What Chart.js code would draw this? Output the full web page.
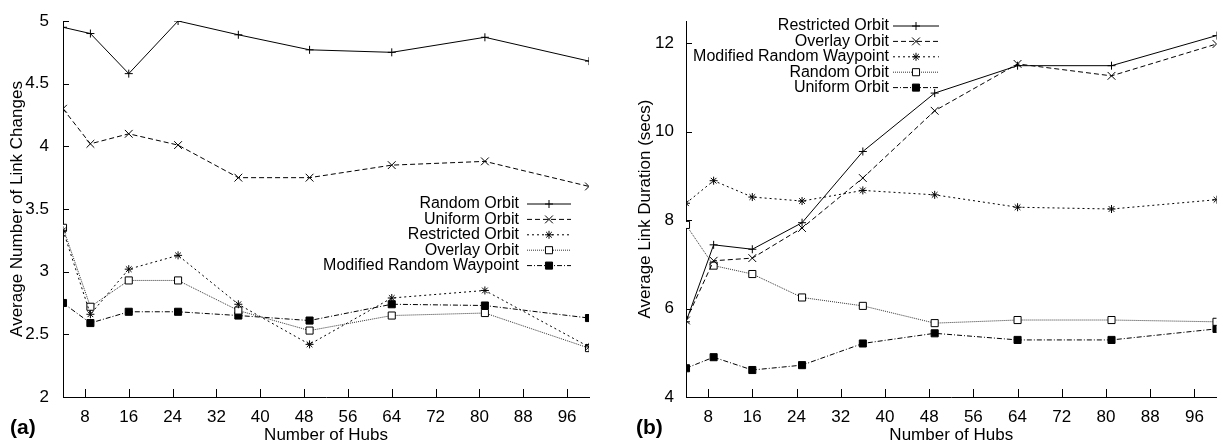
<!DOCTYPE html>
<html>
<head>
<meta charset="utf-8">
<script src="https://cdn.jsdelivr.net/npm/chart.js@4"></script>
<style>
    body { margin: 0; background: #fff; width: 1223px; height: 443px; overflow: hidden; position: relative; }
    .panneau { position: absolute; top: 0; height: 443px; }
    .lettre { position: absolute; top: 415px; font: bold 21px "Liberation Sans", Arial, sans-serif; line-height: 24px; color: #000; }
</style>
</head>
<body>
<div class="panneau" style="left:0;width:611px"><canvas id="graphA" width="611" height="443"></canvas></div>
<div class="panneau" style="left:611px;width:612px"><canvas id="graphB" width="612" height="443"></canvas></div>
<div class="lettre" style="left:10px">(a)</div>
<div class="lettre" style="left:636px">(b)</div>
<script>
// Nombre de hubs (axe x commun)
const hubs = [4, 9, 16, 25, 36, 49, 64, 81, 100];
const xTicks = [8, 16, 24, 32, 40, 48, 56, 64, 72, 80, 88, 96];

// (a) nombre moyen de changements de lien
const nomsA = ['Random Orbit', 'Uniform Orbit', 'Restricted Orbit', 'Overlay Orbit', 'Modified Random Waypoint'];
const randomOrbitA = [4.95, 4.90, 4.58, 5.00, 4.89, 4.77, 4.75, 4.87, 4.68];
const uniformOrbitA = [4.30, 4.02, 4.10, 4.01, 3.75, 3.75, 3.85, 3.88, 3.68];
const restrictedOrbitA = [3.33, 2.66, 3.02, 3.13, 2.74, 2.42, 2.79, 2.85, 2.40];
const overlayOrbitA = [3.35, 2.72, 2.93, 2.93, 2.69, 2.53, 2.65, 2.67, 2.39];
const mrwA = [2.75, 2.59, 2.68, 2.68, 2.65, 2.61, 2.74, 2.73, 2.63];
const yTicksA = [2, 2.5, 3, 3.5, 4, 4.5, 5];

// (b) durée moyenne des liens
const nomsB = ['Restricted Orbit', 'Overlay Orbit', 'Modified Random Waypoint', 'Random Orbit', 'Uniform Orbit'];
const restrictedOrbitB = [5.70, 7.44, 7.34, 7.94, 9.55, 10.87, 11.49, 11.49, 12.17];
const overlayOrbitB = [5.73, 7.08, 7.14, 7.82, 8.95, 10.47, 11.53, 11.26, 11.98];
const mrwB = [8.38, 8.89, 8.52, 8.43, 8.67, 8.57, 8.29, 8.25, 8.46];
const randomOrbitB = [7.89, 6.97, 6.78, 6.25, 6.06, 5.67, 5.74, 5.74, 5.70];
const uniformOrbitB = [4.65, 4.90, 4.61, 4.72, 5.21, 5.44, 5.29, 5.29, 5.54];
const yTicksB = [4, 6, 8, 10, 12];

// Styles gnuplot, dans l'ordre de la légende
const styles = [
    { dash: [], point: 'cross', r: 4, fond: '#000', trait: '#000' },
    { dash: [5, 3], point: 'crossRot', r: 5.5, fond: '#000', trait: '#000' },
    { dash: [2, 3], point: 'star', r: 4, fond: '#000', trait: '#000' },
    { dash: [1, 1], point: 'rect', r: 5, fond: '#fff', trait: '#333' },
    { dash: [5, 2, 1, 2], point: 'rect', r: 5, fond: '#000', trait: '#000' }
];

Chart.defaults.font.family = '"Liberation Sans", Arial, sans-serif';
Chart.defaults.font.size = 17;
Chart.defaults.color = '#000';

// Graduations tournées vers l'intérieur
const graduations = {
    id: 'graduations',
    afterDraw(chart) {
        const ctx = chart.ctx;
        const { x, y } = chart.scales;
        ctx.save();
        ctx.strokeStyle = '#000';
        ctx.lineWidth = 1;
        ctx.setLineDash([]);
        ctx.beginPath();
        x.ticks.forEach(t => {
            const px = Math.round(x.getPixelForValue(t.value)) + 0.5;
            ctx.moveTo(px, y.bottom);
            ctx.lineTo(px, y.bottom - 8);
        });
        y.ticks.forEach(t => {
            const py = Math.round(y.getPixelForValue(t.value)) + 0.5;
            ctx.moveTo(x.left, py);
            ctx.lineTo(x.left + 6, py);
        });
        ctx.stroke();
        ctx.restore();
    }
};

// Légende à la gnuplot : texte à gauche, échantillon à droite
const legende = {
    id: 'legende',
    afterDraw(chart, args, opts) {
        const ctx = chart.ctx;
        ctx.save();
        ctx.font = '16px "Liberation Sans", Arial, sans-serif';
        ctx.textAlign = 'right';
        ctx.textBaseline = 'middle';
        chart.data.datasets.forEach((ds, i) => {
            const yy = opts.haut + i * opts.pas;
            ctx.fillStyle = '#000';
            ctx.fillText(ds.label, opts.texte, yy);
            ctx.strokeStyle = ds.borderColor;
            ctx.lineWidth = 1;
            ctx.setLineDash(ds.borderDash);
            ctx.beginPath();
            ctx.moveTo(opts.debut, yy);
            ctx.lineTo(opts.fin, yy);
            ctx.stroke();
            ctx.setLineDash([]);
            ctx.strokeStyle = '#000';
            ctx.fillStyle = ds.pointBackgroundColor;
            Chart.helpers.drawPoint(ctx, { pointStyle: ds.pointStyle, radius: ds.pointRadius, borderWidth: 1, rotation: 0 }, (opts.debut + opts.fin) / 2, yy);
        });
        ctx.restore();
    }
};

function construireSeries(noms, valeurs) {
    return noms.map((nom, i) => {
        const s = styles[i];
        return {
            label: nom,
            data: valeurs[i].map((v, k) => ({ x: hubs[k], y: v })),
            borderColor: s.trait,
            borderWidth: 1,
            borderDash: s.dash,
            pointStyle: s.point,
            pointRadius: s.r,
            pointBorderColor: '#000',
            pointBorderWidth: 1,
            pointBackgroundColor: s.fond,
            tension: 0,
            fill: false
        };
    });
}

function creerGraphique(id, series, yMin, yMax, yTicks, titreY, largeurY, padTitreY, padTicksY, padDroite, posLegende) {
    return new Chart(document.getElementById(id), {
        type: 'line',
        data: { datasets: series },
        options: {
            responsive: false,
            animation: false,
            layout: { padding: { top: 21, right: padDroite, left: 0, bottom: 0 } },
            plugins: {
                legend: { display: false },
                tooltip: { enabled: false },
                legende: posLegende
            },
            scales: {
                x: {
                    type: 'linear',
                    min: 4,
                    max: 100,
                    afterBuildTicks: s => { s.ticks = xTicks.map(v => ({ value: v })); },
                    afterFit: s => { s.height = 46; },
                    grid: { display: false },
                    border: { color: '#000', width: 1 },
                    ticks: { padding: 2, callback: v => String(v) },
                    title: { display: true, text: 'Number of Hubs', padding: { top: 0, bottom: -3 } }
                },
                y: {
                    min: yMin,
                    max: yMax,
                    afterBuildTicks: s => { s.ticks = yTicks.map(v => ({ value: v })); },
                    afterFit: s => { s.width = largeurY; },
                    grid: { display: false },
                    border: { color: '#000', width: 1 },
                    ticks: { padding: padTicksY, callback: v => String(v) },
                    title: { display: true, text: titreY, padding: { top: padTitreY, bottom: 0 } }
                }
            }
        },
        plugins: [graduations, legende]
    });
}

creerGraphique('graphA',
    construireSeries(nomsA, [randomOrbitA, uniformOrbitA, restrictedOrbitA, overlayOrbitA, mrwA]),
    2, 5, yTicksA, 'Average Number of Link Changes', 63, 7.5, 6, 22,
    { texte: 519, debut: 527, fin: 571, haut: 204, pas: 15.4 });

creerGraphique('graphB',
    construireSeries(nomsB, [restrictedOrbitB, overlayOrbitB, mrwB, randomOrbitB, uniformOrbitB]),
    4, 12.5, yTicksB, 'Average Link Duration (secs)', 75, 24, 4, 2,
    { texte: 278, debut: 282, fin: 328, haut: 26, pas: 15.4 });
</script>
</body>
</html>
